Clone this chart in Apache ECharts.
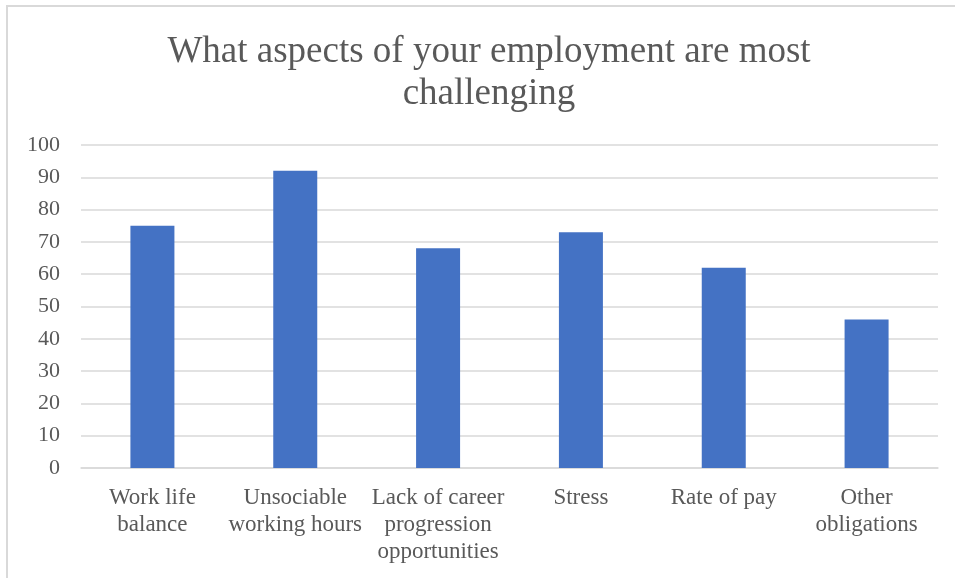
<!DOCTYPE html>
<html>
<head>
<meta charset="utf-8">
<title>What aspects of your employment are most challenging</title>
<script src="https://cdn.jsdelivr.net/npm/echarts@6/dist/echarts.min.js"></script>
<style>
  html, body { margin: 0; padding: 0; background: #ffffff; }
  #chart { width: 955px; height: 578px; }
</style>
</head>
<body>
<div id="chart"></div>
<script>
// Survey responses: challenges of employment
const categories = [
  'Work life\nbalance',
  'Unsociable\nworking hours',
  'Lack of career\nprogression\nopportunities',
  'Stress',
  'Rate of pay',
  'Other\nobligations'
];
const responses = [75, 92, 68, 73, 62, 46];
const yTicks = { min: 0, max: 100, interval: 10 };

const textColor = '#595959';
const gridColor = '#d9d9d9';
const serif = '"Liberation Serif", "Times New Roman", serif';

const chart = echarts.init(document.getElementById('chart'), null, { renderer: 'canvas' });

chart.setOption({
  backgroundColor: '#ffffff',
  animation: false,
  title: {
    text: 'What aspects of your employment are most\nchallenging',
    left: 484,
    top: 26,
    textAlign: 'center',
    textStyle: {
      fontFamily: serif,
      fontSize: 37,
      fontWeight: 'normal',
      color: textColor,
      lineHeight: 42
    }
  },
  graphic: [
    {
      type: 'polyline',
      silent: true,
      shape: { points: [[7, 578], [7, 6], [955, 6]] },
      style: { stroke: gridColor, lineWidth: 2, fill: null }
    }
  ],
  grid: {
    left: 81,
    right: 17,
    top: 145,
    bottom: 110,
    containLabel: false
  },
  xAxis: {
    type: 'category',
    data: categories,
    axisLine: { show: true, lineStyle: { color: gridColor, width: 1.5 } },
    axisTick: { show: false },
    axisLabel: {
      interval: 0,
      margin: 16,
      fontFamily: serif,
      fontSize: 23,
      lineHeight: 27,
      color: textColor,
      align: 'center'
    }
  },
  yAxis: {
    type: 'value',
    min: yTicks.min,
    max: yTicks.max,
    interval: yTicks.interval,
    axisLine: { show: false },
    axisTick: { show: false },
    axisLabel: {
      margin: 21,
      fontFamily: serif,
      fontSize: 22,
      color: textColor
    },
    splitLine: { show: true, lineStyle: { color: gridColor, width: 1.5 } }
  },
  series: [
    {
      type: 'bar',
      data: responses,
      barWidth: 44,
      itemStyle: { color: '#4472c4' }
    }
  ]
});
</script>
</body>
</html>
